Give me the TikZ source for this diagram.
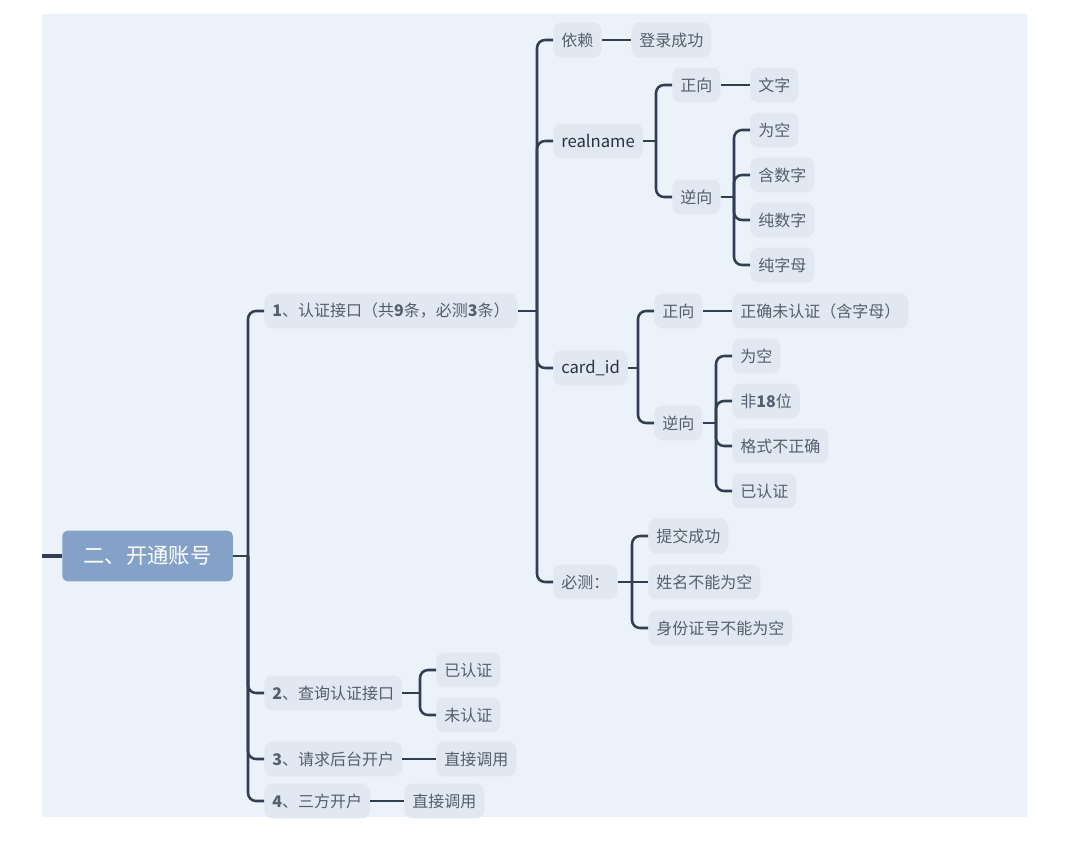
\documentclass[tikz,border=0pt]{standalone}
\usepackage{fontspec}
\setmainfont{Noto Sans CJK SC}
\usetikzlibrary{positioning}
\definecolor{canvas}{RGB}{236,242,249}
\definecolor{topicfill}{RGB}{225,232,241}
\definecolor{rootfill}{RGB}{132,162,200}
\definecolor{linkcol}{RGB}{50,62,84}
\definecolor{textcol}{RGB}{84,94,110}
\definecolor{keycol}{RGB}{40,50,68}

% parent -> child with a rounded elbow on the child side
\newcommand{\fork}[2]{%
  \draw[edge] (#1.east) -- ([xshift=-12pt]#2.west |- #1.east);
  \draw[edge, rounded corners=6pt] ([xshift=-12pt]#2.west |- #1.east) |- (#2.west);}

\begin{document}
\begin{tikzpicture}[
  x=0.75pt, y=-0.75pt,
  every node/.style={font=\fontsize{12}{14}\selectfont},
  root/.style={rectangle, fill=rootfill, rounded corners=4pt, text=white, font=\fontsize{16}{18}\selectfont, minimum width=128pt, minimum height=38pt, anchor=west},
  topic/.style={rectangle, fill=topicfill, rounded corners=6pt, text=textcol, minimum height=26pt, inner xsep=6pt, anchor=west},
  key/.style={topic, text=keycol, font=\fontsize{12.5}{14}\selectfont},
  edge/.style={draw=linkcol, line width=1.9pt}
]
\useasboundingbox (0,0) rectangle (1067,842);
\fill[white] (0,0) rectangle (1067,842);
\fill[canvas] (42,14) rectangle (1027,817);

% root and first level
\node[root] (root) at (62,556) {二、开通账号};
\node[topic] (auth) at (264,311) {\textbf{1}、认证接口（共\textbf{9}条，必测\textbf{3}条）};
\node[topic] (query) at (264,693) {\textbf{2}、查询认证接口};
\node[topic] (open) at (264,759) {\textbf{3}、请求后台开户};
\node[topic] (third) at (264,801) {\textbf{4}、三方开户};

% auth interface
\node[topic] (dep) at (553,40) {依赖};
\node[topic] (depok) at (631,40) {登录成功};
\node[key] (rname) at (553,141) {realname};
\node[topic] (rnpos) at (672,85) {正向};
\node[topic] (rnposa) at (750,85) {文字};
\node[topic] (rnneg) at (672,197) {逆向};
\node[topic] (rnnega) at (750,130) {为空};
\node[topic] (rnnegb) at (750,175) {含数字};
\node[topic] (rnnegc) at (750,220) {纯数字};
\node[topic] (rnnegd) at (750,265) {纯字母};
\node[key] (cid) at (553,368) {card\_id};
\node[topic] (cidpos) at (654,311) {正向};
\node[topic] (cidposa) at (732,311) {正确未认证（含字母）};
\node[topic] (cidneg) at (654,423) {逆向};
\node[topic] (cidnega) at (732,356) {为空};
\node[topic] (cidnegb) at (732,401) {非\textbf{18}位};
\node[topic] (cidnegc) at (732,446) {格式不正确};
\node[topic] (cidnegd) at (732,491) {已认证};
\node[topic] (must) at (553,582) {必测：};
\node[topic] (musta) at (648,536) {提交成功};
\node[topic] (mustb) at (648,582) {姓名不能为空};
\node[topic] (mustc) at (648,628) {身份证号不能为空};

% other interfaces
\node[topic] (querya) at (436,670) {已认证};
\node[topic] (queryb) at (436,715) {未认证};
\node[topic] (opena) at (436,759) {直接调用};
\node[topic] (thirda) at (404,801) {直接调用};

% connectors
\draw[linkcol, line width=3pt] (42,556) -- (root.west);
\foreach \c in {auth, query, open, third} {\fork{root}{\c}}
\foreach \c in {dep, rname, cid, must} {\fork{auth}{\c}}
\draw[edge] (dep) -- (depok);
\foreach \c in {rnpos, rnneg} {\fork{rname}{\c}}
\draw[edge] (rnpos) -- (rnposa);
\foreach \c in {rnnega, rnnegb, rnnegc, rnnegd} {\fork{rnneg}{\c}}
\foreach \c in {cidpos, cidneg} {\fork{cid}{\c}}
\draw[edge] (cidpos) -- (cidposa);
\foreach \c in {cidnega, cidnegb, cidnegc, cidnegd} {\fork{cidneg}{\c}}
\fork{must}{musta}
\draw[edge] (must) -- (mustb);
\fork{must}{mustc}
\foreach \c in {querya, queryb} {\fork{query}{\c}}
\draw[edge] (open) -- (opena);
\draw[edge] (third) -- (thirda);

\end{tikzpicture}
\end{document}
